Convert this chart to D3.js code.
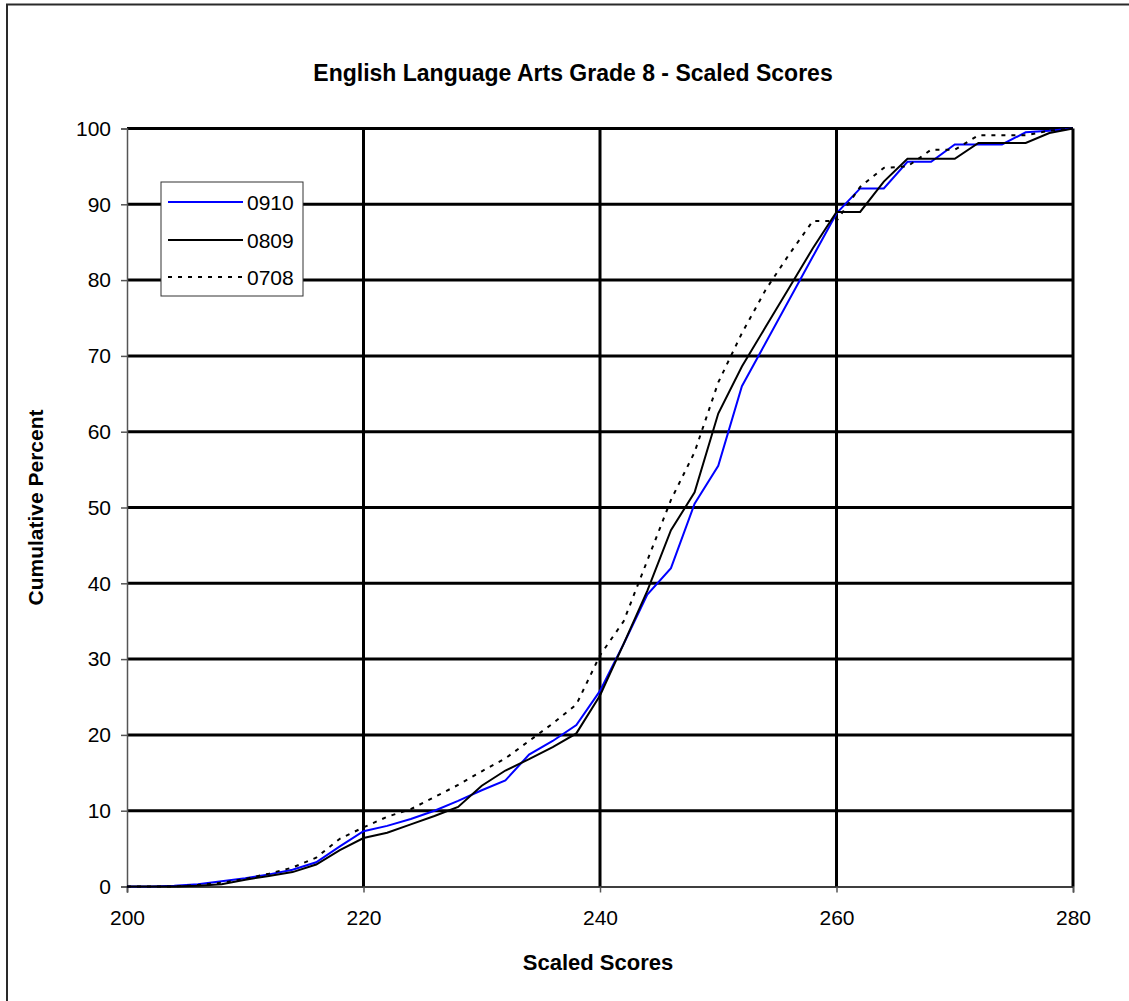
<!DOCTYPE html>
<html>
<head>
<meta charset="utf-8">
<script src="https://cdn.jsdelivr.net/npm/d3@7"></script>
<style>
  html, body { margin: 0; padding: 0; background: #fff; }
  svg { display: block; font-family: "Liberation Sans", Arial, sans-serif; }
</style>
</head>
<body>
<svg id="chart" width="1129" height="1001"></svg>
<script>
const scores = d3.range(200, 281, 2);
const series0910 = [0,0,0.1,0.3,0.7,1.1,1.6,2.2,3.2,5.3,7.3,8.0,8.9,10.0,11.3,12.7,14.0,17.4,19.2,21.3,25.8,32.0,38.5,42.0,50.5,55.5,66.0,71.7,77.4,83.1,88.8,92.1,92.1,95.6,95.6,97.9,97.9,97.9,99.5,99.7,100];
const series0809 = [0,0,0,0.1,0.3,0.9,1.4,1.9,2.9,4.8,6.4,7.1,8.2,9.3,10.5,13.3,15.3,16.8,18.4,20.2,25.2,32.0,39.0,47.0,52.0,62.4,68.6,73.8,79.0,84.2,89.0,89.0,93.0,96.0,96.0,96.0,98.1,98.1,98.1,99.4,100];
const series0708 = [0,0,0,0.2,0.5,1.0,1.7,2.5,3.8,6.3,7.8,9.2,10.2,11.8,13.4,15.2,16.9,19.2,21.5,24.0,30.5,35.0,43.0,51.0,57.3,66.5,73.0,78.7,83.4,87.8,87.8,92.3,94.8,95.0,97.2,97.2,99.1,99.1,99.1,99.7,100];
const xTicks = [200, 220, 240, 260, 280];
const yTicks = [0,10,20,30,40,50,60,70,80,90,100];
const seriesNames = ["0910", "0809", "0708"];
const titleText = "English Language Arts Grade 8 - Scaled Scores";
const xTitle = "Scaled Scores";
const yTitle = "Cumulative Percent";

const svg = d3.select("#chart");
const x = d3.scaleLinear().domain([200, 280]).range([127, 1073]);
const y = d3.scaleLinear().domain([0, 100]).range([886.5, 128.5]);

// outer border (top & left visible)
svg.append("path").attr("d", "M7,1001 L7,4.5 L1129,4.5")
  .attr("fill", "none").attr("stroke", "#2a2a2a").attr("stroke-width", 2);

// title
svg.append("text").attr("x", 573).attr("y", 81).attr("text-anchor", "middle")
  .attr("font-size", 23).attr("font-weight", "bold").text(titleText);

// horizontal gridlines
svg.append("g").selectAll("line").data(yTicks.filter(d => d > 0)).join("line")
  .attr("x1", x(200)).attr("x2", x(280)).attr("y1", d => y(d)).attr("y2", d => y(d))
  .attr("stroke", "#000").attr("stroke-width", 3);
// vertical gridlines
svg.append("g").selectAll("line").data(xTicks.filter(d => d > 200)).join("line")
  .attr("x1", d => x(d)).attr("x2", d => x(d)).attr("y1", y(0)).attr("y2", y(100))
  .attr("stroke", "#000").attr("stroke-width", 3);

// axes
const yAxis = d3.axisLeft(y).tickValues(yTicks).tickSize(6).tickPadding(10);
const gy = svg.append("g").attr("transform", `translate(${x(200)},0)`).call(yAxis);
gy.select(".domain").attr("stroke", "#555").attr("stroke-width", 1.5);
gy.selectAll(".tick line").attr("stroke", "#555").attr("stroke-width", 1.5);
gy.selectAll("text").attr("font-size", 21).attr("fill", "#000")
  .attr("font-family", "'Liberation Sans', Arial, sans-serif");

const xAxis = d3.axisBottom(x).tickValues(xTicks).tickSize(6).tickPadding(18);
const gx = svg.append("g").attr("transform", `translate(0,${y(0)})`).call(xAxis);
gx.select(".domain").attr("stroke", "#000").attr("stroke-width", 1.5);
gx.selectAll(".tick line").attr("stroke", "#555").attr("stroke-width", 1.5);
gx.selectAll("text").attr("font-size", 21).attr("fill", "#000")
  .attr("font-family", "'Liberation Sans', Arial, sans-serif");

// axis titles
svg.append("text").attr("x", 598).attr("y", 970).attr("text-anchor", "middle")
  .attr("font-size", 22).attr("font-weight", "bold").text(xTitle);
svg.append("text").attr("transform", `translate(43,${(y(0)+y(100))/2}) rotate(-90)`)
  .attr("text-anchor", "middle").attr("font-size", 21).attr("font-weight", "bold").text(yTitle);

// lines
const line = d3.line().x((d, i) => x(scores[i])).y(d => y(d));
const styles = [
  { data: series0910, color: "#0000ff", dash: null },
  { data: series0809, color: "#000000", dash: null },
  { data: series0708, color: "#000000", dash: "4,6" }
];
styles.forEach(s => {
  svg.append("path").datum(s.data).attr("d", line)
    .attr("fill", "none").attr("stroke", s.color).attr("stroke-width", 2)
    .attr("stroke-dasharray", s.dash);
});

// legend
const lg = svg.append("g");
lg.append("rect").attr("x", 161).attr("y", 182).attr("width", 142).attr("height", 114)
  .attr("fill", "#fff").attr("stroke", "#333").attr("stroke-width", 1);
const ly = [202, 240, 277];
styles.forEach((s, i) => {
  lg.append("line").attr("x1", 168).attr("x2", 243).attr("y1", ly[i]).attr("y2", ly[i])
    .attr("stroke", s.color).attr("stroke-width", 2).attr("stroke-dasharray", s.dash);
  lg.append("text").attr("x", 247).attr("y", ly[i] + 7.5).attr("font-size", 21)
    .text(seriesNames[i]);
});
</script>
</body>
</html>
